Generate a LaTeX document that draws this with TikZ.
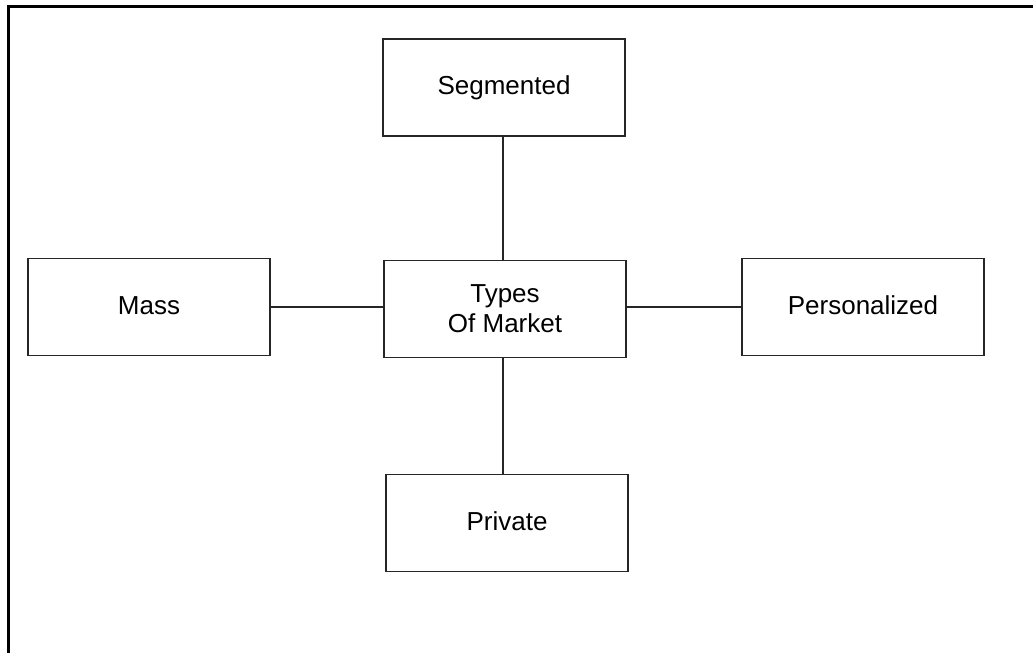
\documentclass[tikz,border=0pt]{standalone}
\usepackage{fontspec}
\setmainfont{Liberation Sans}
\newcommand{\uplab}[1]{\raisebox{3pt}{#1}}
\begin{document}
\begin{tikzpicture}[x=1pt,y=-1pt,
  box/.style={draw=black!85, line width=1.4pt, minimum width=242pt, minimum height=97pt, inner sep=0pt, align=center, font=\fontsize{26}{30}\selectfont},
  link/.style={draw=black!85, line width=1.4pt}]
\useasboundingbox (0,0) rectangle (1033,653);
\fill[white] (0,0) rectangle (1033,653);
\draw[line width=3pt] (8.5,653) -- (8.5,6.5) -- (1033,6.5);
\node[box] (seg) at (504,87.5) {\uplab{Segmented}};
\node[box] (mass) at (149,307) {\uplab{Mass}};
\node[box] (types) at (505,309) {Types\\Of Market};
\node[box] (pers) at (863,307) {\uplab{Personalized}};
\node[box] (priv) at (507,523) {\uplab{Private}};
\coordinate (vx) at (503,0);
\draw[link] (vx |- seg.south) -- (vx |- types.north);
\draw[link] (mass.east) -- (mass.east -| types.west);
\draw[link] (types.east |- mass.east) -- (pers.west);
\draw[link] (vx |- types.south) -- (vx |- priv.north);
\end{tikzpicture}
\end{document}
